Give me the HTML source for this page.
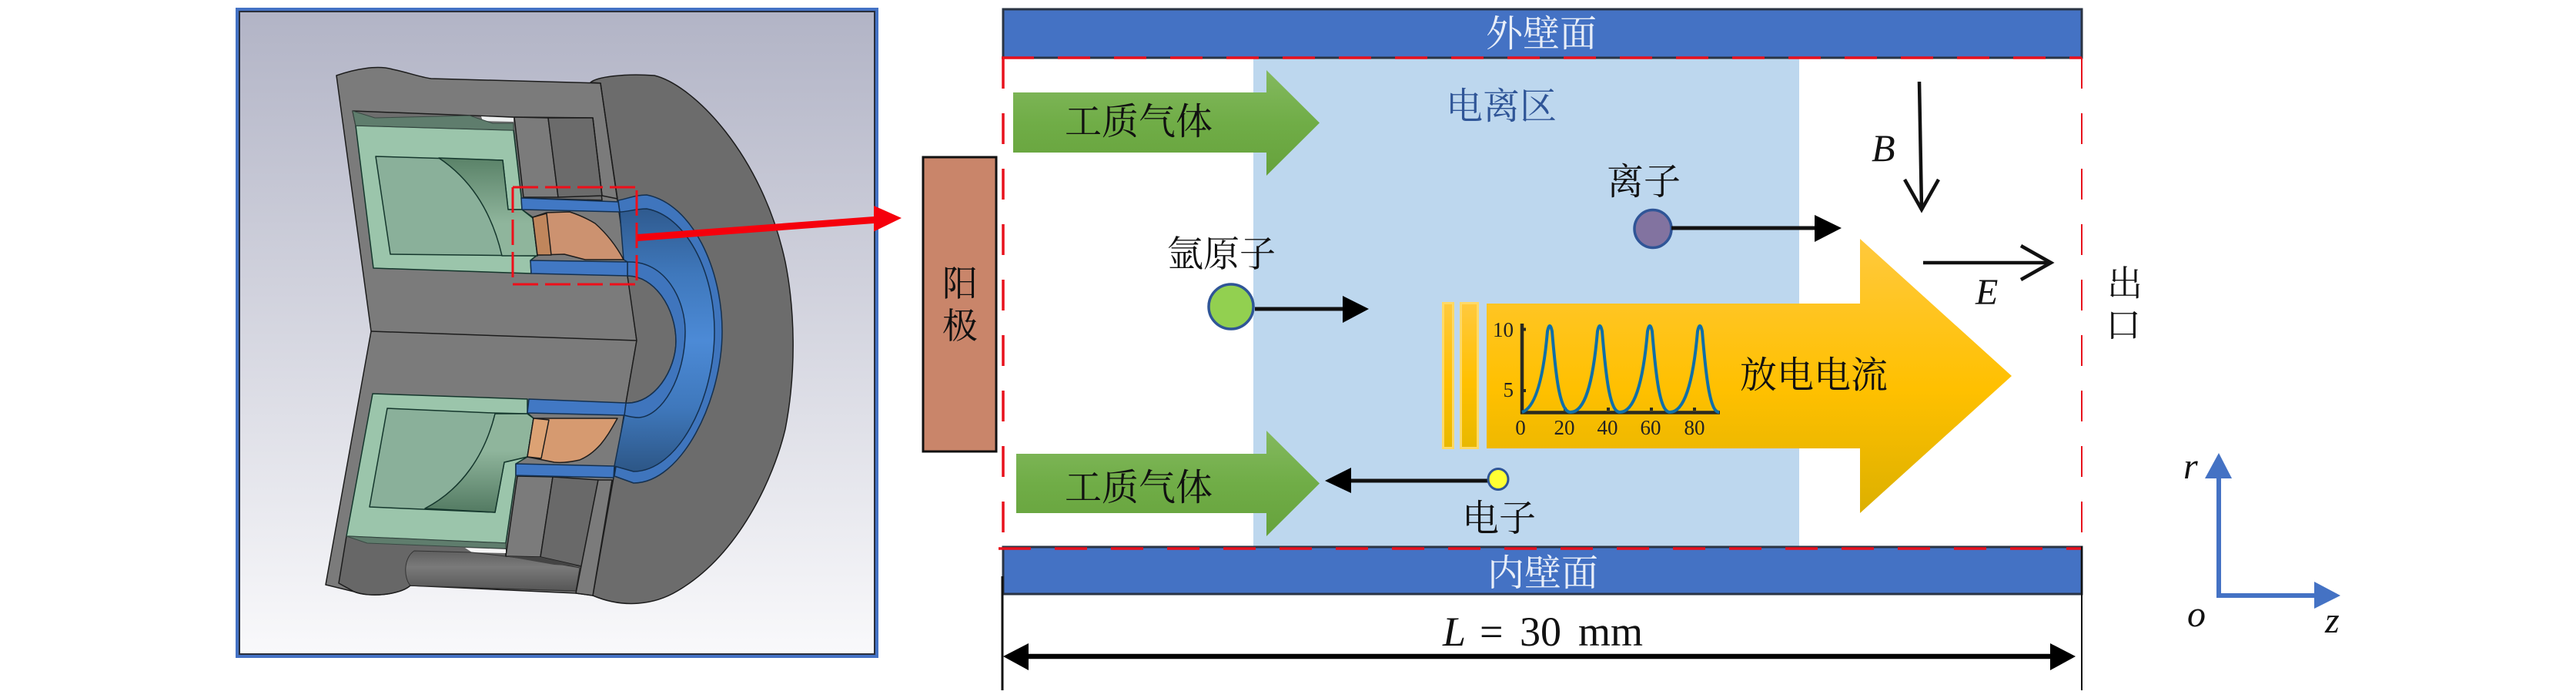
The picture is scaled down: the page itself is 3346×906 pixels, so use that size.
<!DOCTYPE html>
<html><head><meta charset="utf-8"><style>
html,body{margin:0;padding:0;background:#fff}
svg{display:block}
.c{font-family:"Liberation Serif","Noto Serif CJK SC",serif;font-size:48px;fill:#111}
.m{font-family:"Liberation Serif",serif;font-style:italic;font-size:50px;fill:#111}
.t{font-family:"Liberation Serif",serif;font-size:27px;fill:#222}
.n{font-family:"Liberation Serif",serif;font-size:54px;fill:#111}
</style></head><body>
<svg width="3346" height="906" viewBox="0 0 3346 906" xmlns="http://www.w3.org/2000/svg">
<defs>
<linearGradient id="bg" x1="0" y1="0" x2="0" y2="1"><stop offset="0" stop-color="#b2b4c6"/><stop offset="1" stop-color="#f9f9fb"/></linearGradient>
<linearGradient id="gr" x1="0" y1="0" x2="0" y2="1"><stop offset="0" stop-color="#84b95f"/><stop offset="0.5" stop-color="#70ad47"/><stop offset="1" stop-color="#66a23c"/></linearGradient>
<linearGradient id="yl" x1="0" y1="0" x2="0" y2="1"><stop offset="0" stop-color="#ffc93d"/><stop offset="0.55" stop-color="#ffc000"/><stop offset="1" stop-color="#e8b800"/></linearGradient>
<linearGradient id="yb" gradientUnits="userSpaceOnUse" x1="0" y1="310" x2="0" y2="666"><stop offset="0" stop-color="#ffc93d"/><stop offset="0.55" stop-color="#ffc000"/><stop offset="1" stop-color="#dcb000"/></linearGradient>
<linearGradient id="cv" gradientUnits="userSpaceOnUse" x1="0" y1="205" x2="0" y2="290"><stop offset="0" stop-color="#5a8268"/><stop offset="1" stop-color="#8fb59c"/></linearGradient>
<linearGradient id="cv2" gradientUnits="userSpaceOnUse" x1="0" y1="665" x2="0" y2="585"><stop offset="0" stop-color="#537a62"/><stop offset="1" stop-color="#8fb59c"/></linearGradient>
<linearGradient id="bl" gradientUnits="userSpaceOnUse" x1="0" y1="270" x2="0" y2="615"><stop offset="0" stop-color="#2f5a8e"/><stop offset="0.25" stop-color="#3f78bc"/><stop offset="0.5" stop-color="#4c8ad6"/><stop offset="0.75" stop-color="#3f78bc"/><stop offset="1" stop-color="#2c5584"/></linearGradient>
<linearGradient id="rod" x1="0" y1="0" x2="0" y2="1"><stop offset="0" stop-color="#5f5f5f"/><stop offset="0.4" stop-color="#7a7a7a"/><stop offset="1" stop-color="#565656"/></linearGradient>
</defs>

<!-- CAD picture -->
<rect x="306" y="10" width="835" height="844" fill="#4472c4"/>
<rect x="310" y="14" width="827" height="836" fill="#2a2f3a"/>
<rect x="312" y="16" width="823" height="832" fill="url(#bg)"/>
<g stroke="#1c1c1c" stroke-width="1.500" stroke-linejoin="round">
<path d="M780 108L767 107C775 100 810 95 850 98C900 110 990 200 1020 340C1032 400 1035 480 1020 557C1005 620 960 720 880 767C850 785 810 790 770 773Z" fill="#6c6c6c"/>
<path d="M437 98C460 90 490 84 510 90C530 94 545 100 560 102L780 108L802 260L827 442L813 523L797 620L770 773L748 770L533 760C520 772 480 776 460 768L423 759L482 430Z" fill="#7b7b7b"/>
<path d="M482 430L827 442" fill="none"/>
<!-- hollow -->
<path d="M815 358C850 358 878 400 878 443C878 480 850 525 813 523L827 442Z" fill="#6e6e6e"/>
<!-- top blocks -->
<path d="M458 144L667 152L770 153L782 260L677 257L667 169L462 163Z" fill="#6e6e6e"/>
<path d="M668 152L712 153L725 256L680 256Z" fill="#7b7b7b"/>
<path d="M712 153L770 153L782 254L725 256Z" fill="#6b6b6b"/>
<path d="M770 153L782 254L802 258L780 108" fill="none"/>
<path d="M625 151L667 153L667 158L627 157Z" fill="#eef0f0" stroke="none"/>
<!-- lower dark -->
<path d="M450 696L657 705L657 722L755 735L748 767L533 760C520 772 480 776 460 768L440 757Z" fill="#676767"/>
<path d="M604 711L657 713L657 718L613 717Z" fill="#f6f6f6" stroke="none"/>
<path d="M538 715L613 717L657 722L702 728L753 737L748 767L533 760C524 750 524 724 538 715Z" fill="url(#rod)" stroke="#333" stroke-width="1"/>
<path d="M672 618L718 619L702 723L657 722Z" fill="#7b7b7b"/>
<path d="M718 619L777 623L755 735L702 723Z" fill="#696969"/>
<path d="M657 722L702 723L755 735L720 733Z" fill="#444" stroke="none"/>
<path d="M777 623L795 623L770 773L748 770Z" fill="#7b7b7b"/>
<!-- annulus -->
<path d="M803 260C815 258 825 253 840 253C900 265 938 350 938 430C938 520 885 627 823 627L798 618L811 539L813 523C850 525 878 480 878 443C878 400 850 358 815 358L815 340L805 275Z" fill="#3f75bd" stroke="#14304f"/>
<path d="M805 275C815 275 825 271 840 271C890 280 928 350 928 430C928 520 880 612 823 612L798 605L811 539C818 541 824 542 830 542C860 540 890 490 890 430C890 390 865 338 815 340L810 337Z" fill="url(#bl)" stroke="#14304f"/>
<!-- top green -->
<path d="M462 163L667 169L677 255L678 272L692 282L698 331L689 338L690 355L485 348Z" fill="#9bc5ab" stroke="#14362c"/>
<path d="M458 144L487 153L610 150L640 160L667 160L667 169L462 163Z" fill="#5f7d6d" stroke="#3a4a44" stroke-width="1"/>
<path d="M488 203L653 208L660 272L678 272L692 283L698 332L507 330Z" fill="#8ab09a" stroke="#14362c"/>
<path d="M570 205L653 208L660 272L678 272L692 283L698 332L652 332C640 280 615 235 570 205Z" fill="url(#cv)" stroke="#14362c"/>
<!-- bottom green -->
<path d="M484 511L685 518L685 536L693 543L685 593L670 602L670 617L657 705L450 696Z" fill="#9bc5ab" stroke="#14362c"/>
<path d="M503 530L640 536L685 537L693 543L685 593L655 600L643 665L480 658Z" fill="#8ab09a" stroke="#14362c"/>
<path d="M643 537L685 537L693 543L685 593L655 600L643 665L552 660C600 635 630 590 643 537Z" fill="url(#cv2)" stroke="#14362c"/>
<path d="M450 696L477 705L603 710L657 712L657 705Z" fill="#5f7d6d" stroke="#3a4a44" stroke-width="1"/>
<!-- copper -->
<path d="M692 282L710 276L740 275C755 280 765 285 773 290C790 305 802 322 810 337L760 337L733 330L698 331Z" fill="#cc9270"/>
<path d="M692 282L710 277L716 331L698 331Z" fill="#c0865c"/>
<path d="M693 543L713 543L802 543C795 555 790 565 780 577C770 588 762 593 753 597C740 600 730 601 720 600L685 593Z" fill="#d69a70"/>
<path d="M693 543L713 545L703 595L685 593Z" fill="#dca274"/>
<!-- strips -->
<path d="M677 257L803 262L805 275L678 272Z" fill="#4178c4" stroke="#14304f"/>
<path d="M689 338L815 340L815 358L690 355Z" fill="#4178c4" stroke="#14304f"/>
<path d="M687 518L813 523L811 539L685 536Z" fill="#4178c4" stroke="#14304f"/>
<path d="M670 602L798 605L797 620L670 617Z" fill="#4178c4" stroke="#14304f"/>
</g>
<path d="M666 243H827M666 243V369H827M827 247V369" fill="none" stroke="#ee0f1a" stroke-width="3" stroke-dasharray="33 9"/>
<path d="M828 304L1135 281L1135 267L1171 283L1135 300.500L1135 290L828 313Z" fill="#f5000c"/>

<!-- light region -->
<rect x="1628" y="75" width="709" height="635" fill="#bdd7ee"/>

<!-- walls -->
<rect x="1303" y="12" width="1401" height="63" fill="#4472c4" stroke="#2a3444" stroke-width="3"/>
<rect x="1303" y="710" width="1401" height="61" fill="#4472c4" stroke="#2a3444" stroke-width="3"/>
<text class="c" x="1930" y="60" style="fill:#e8eef8">外壁面</text>
<text class="c" x="1932" y="760" style="fill:#e8eef8">内壁面</text>

<!-- red dashed -->
<path d="M1301 75H2704" fill="none" stroke="#e8101c" stroke-width="3.500" stroke-dasharray="42 31"/>
<path d="M1297 712H2704" fill="none" stroke="#e8101c" stroke-width="3.500" stroke-dasharray="42 31"/>
<path d="M1303 75V710" fill="none" stroke="#e8101c" stroke-width="3.500" stroke-dasharray="40 32"/>
<path d="M2704 75V710" fill="none" stroke="#e8101c" stroke-width="2" stroke-dasharray="40 32"/>

<!-- anode -->
<rect x="1199" y="204" width="95" height="382" fill="#c9856a" stroke="#111" stroke-width="3"/>
<text class="c" x="1224" y="384" style="font-size:46px">阳</text>
<text class="c" x="1224" y="439" style="font-size:46px">极</text>

<!-- green arrows -->
<path d="M1316 120H1645V91L1714 159.500L1645 228V198H1316Z" fill="url(#gr)"/>
<path d="M1320 589H1645V559L1714 627.500L1645 696V666H1320Z" fill="url(#gr)"/>
<text class="c" x="1383" y="174">工质气体</text>
<text class="c" x="1383" y="649">工质气体</text>

<!-- yellow bars + arrow -->
<rect x="1874.500" y="393.500" width="13" height="188" fill="url(#yl)" stroke="#ffd966" stroke-width="3"/>
<rect x="1897.500" y="393.500" width="22" height="188" fill="url(#yl)" stroke="#ffd966" stroke-width="3"/>
<path d="M1931 394H2416V310L2613 488L2416 666V582H1931Z" fill="url(#yb)"/>

<!-- chart -->
<path d="M1977 420V537M1975 535.500H2234" fill="none" stroke="#2b2a20" stroke-width="4.500"/>
<path d="M1977 427.500h5M1977 507h5M2033 533v-4M2089 533v-4M2145 533v-4M2201 533v-4" fill="none" stroke="#2b2a20" stroke-width="4"/>
<path d="M1977 535C1992 530 2004 500 2010 430Q2013 416 2016 430C2021 490 2026 535 2040 535C2058 535 2069 500 2075 430Q2078 416 2081 430C2086 490 2091 535 2104 535C2122 535 2134 500 2140 430Q2143 416 2146 430C2151 490 2156 535 2169 535C2187 535 2199 500 2205 430Q2208 416 2211 430C2216 490 2221 535 2233 535" fill="none" stroke="#0f6fa8" stroke-width="4"/>
<text class="t" x="1966" y="437" text-anchor="end">10</text>
<text class="t" x="1966" y="515" text-anchor="end">5</text>
<text class="t" x="1975" y="564" text-anchor="middle">0</text>
<text class="t" x="2032" y="564" text-anchor="middle">20</text>
<text class="t" x="2088" y="564" text-anchor="middle">40</text>
<text class="t" x="2144" y="564" text-anchor="middle">60</text>
<text class="t" x="2201" y="564" text-anchor="middle">80</text>
<text class="c" x="2260" y="503">放电电流</text>

<!-- labels -->
<text class="c" x="1878" y="154" style="fill:#2f5597">电离区</text>
<text class="c" x="1516" y="346" style="font-size:47px">氩原子</text>
<text class="c" x="2087" y="252">离子</text>
<text class="c" x="1899" y="689">电子</text>
<text class="c" x="2737" y="384" style="font-size:46px">出</text>
<text class="c" x="2735" y="438" style="font-size:46px">口</text>

<!-- particles -->
<ellipse cx="1599" cy="398" rx="29" ry="29" fill="#92d050" stroke="#2f5597" stroke-width="3.500"/>
<path d="M1630 401H1746" stroke="#111" stroke-width="5" fill="none"/>
<path d="M1778 401L1744 384V419Z" fill="#000"/>
<ellipse cx="2147" cy="297" rx="24" ry="24.500" fill="#8273a0" stroke="#2f5597" stroke-width="3.500"/>
<path d="M2171 296H2360" stroke="#111" stroke-width="5" fill="none"/>
<path d="M2392 296L2357 279V314Z" fill="#000"/>
<path d="M1752 624H1933" stroke="#111" stroke-width="5" fill="none"/>
<path d="M1721 624L1755 607V640Z" fill="#000"/>
<ellipse cx="1946" cy="622" rx="13" ry="13.500" fill="#ffff33" stroke="#2f5597" stroke-width="3"/>

<!-- B / E -->
<path d="M2493 106L2496 270" stroke="#111" stroke-width="4.500" fill="none"/>
<path d="M2474 233L2496 272L2518 233" stroke="#111" stroke-width="4.500" fill="none"/>
<text class="m" x="2431" y="209">B</text>
<path d="M2498 341H2662" stroke="#111" stroke-width="4.500" fill="none"/>
<path d="M2625 319L2664 341L2625 363" stroke="#111" stroke-width="4.500" fill="none"/>
<text class="m" x="2566" y="395" style="font-size:48px">E</text>

<!-- L dimension -->
<path d="M1302 748V896" stroke="#111" stroke-width="3" fill="none"/>
<path d="M2704 709V896" stroke="#111" stroke-width="2" fill="none"/>
<path d="M1330 852H2668" stroke="#000" stroke-width="6.500" fill="none"/>
<path d="M1303 852L1336 835V870Z" fill="#000"/>
<path d="M2696 852L2663 835V870Z" fill="#000"/>
<text class="n" x="1874" y="838" font-style="italic">L</text>
<text class="n" x="1922" y="838">=</text>
<text class="n" x="1974" y="838">30</text>
<text class="n" x="2050" y="838">mm</text>

<!-- axes -->
<path d="M2882 773V618M2879 773H3008" stroke="#4472c4" stroke-width="6" fill="none"/>
<path d="M2882 588L2864 621H2899Z" fill="#4472c4"/>
<path d="M3040 773L3006 755V790Z" fill="#4472c4"/>
<text class="m" x="2836" y="621" style="font-size:48px">r</text>
<text class="m" x="2841" y="813" style="font-size:48px">o</text>
<text class="m" x="3020" y="821" style="font-size:48px">z</text>
</svg>
</body></html>
